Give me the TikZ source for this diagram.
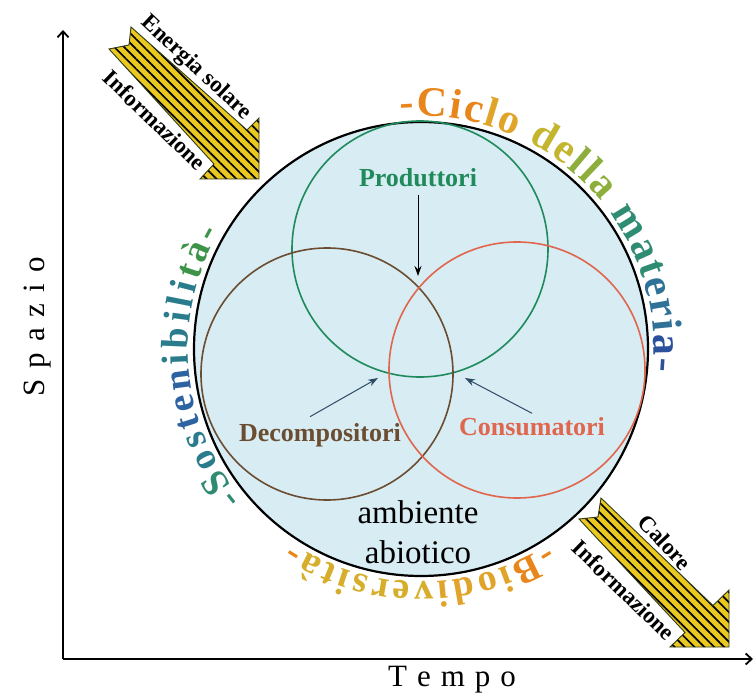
\documentclass[tikz,border=0pt]{standalone}
\usepackage{fontspec}
\setmainfont{Liberation Serif}
\usetikzlibrary{arrows.meta}
\usetikzlibrary{decorations.text}
\usetikzlibrary{patterns.meta}
\definecolor{skyfill}{HTML}{D7ECF3}
\definecolor{prodgreen}{HTML}{1F8A5B}
\definecolor{decbrown}{HTML}{6B4D31}
\definecolor{consred}{HTML}{E0664E}
\definecolor{pointblue}{HTML}{2D4B63}
\definecolor{hatchyellow}{HTML}{E9C81F}
\definecolor{arrowedge}{HTML}{2F3A1A}
\definecolor{cOr}{HTML}{E8861C}
\definecolor{cAm}{HTML}{E0A42A}
\definecolor{cYe}{HTML}{C4B52E}
\definecolor{cYg}{HTML}{8DAE3A}
\definecolor{cTe}{HTML}{2E8C73}
\definecolor{cBt}{HTML}{2F7197}
\definecolor{cBl}{HTML}{2B509C}
\definecolor{sTg}{HTML}{2E8A70}
\definecolor{sTe}{HTML}{2A7C8C}
\definecolor{sBl}{HTML}{2D63A0}
\definecolor{sGr}{HTML}{3D9448}
\definecolor{bYe}{HTML}{D6AE2C}
\newcommand{\ringtext}[3]{\path[decorate,decoration={text along path,text align=fit to path,text={#3}}] (ring.center) ++(#1:233) arc[start angle=#1,end angle=#2,radius=233];}

\begin{document}
\begin{tikzpicture}[x=1pt,y=-1pt,
    venn/.style={circle,line width=1.6pt,minimum size=#1,inner sep=0pt},
    kind/.style={font=\bfseries\fontsize{26}{26}\selectfont},
    pointer/.style={line width=1pt,-{Stealth[length=10pt,width=7pt]}},
    axis/.style={line width=1.8pt,-{Straight Barb[length=6pt,width=11pt]}},
    axislabel/.style={font=\fontsize{31}{31}\selectfont},
    flowlabel/.style={font=\bfseries\fontsize{23}{23}\selectfont,inner sep=0pt},
    hatched/.style={preaction={fill=hatchyellow},pattern={Lines[angle=-45,distance=7pt,line width=1.7pt]},pattern color=black,draw=arrowedge,line width=0.9pt}]
        \useasboundingbox (0,0) rectangle (755,695);
        %axes
        \coordinate (origin) at (63,659);
        \coordinate (ytop) at (63,30);
        \coordinate (xend) at (753,659);
        \draw[axis] (origin) -- (ytop);
        \draw[axis] (origin) -- (xend);
        \node[axislabel,rotate=90] (spazio) at (38,327) {S\hspace{11pt}p\hspace{11pt}a\hspace{11pt}z\hspace{11pt}i\hspace{11pt}o};
        \node[axislabel] (tempo) at (452,680) {T\hspace{10pt}e\hspace{10pt}m\hspace{10pt}p\hspace{10pt}o};
        %circles
        \node[circle,draw,fill=skyfill,line width=2.2pt,minimum size=454pt,inner sep=0pt] (ring) at (421,349) {};
        \node[venn=256pt,draw=prodgreen] (pcirc) at (420,249) {};
        \node[venn=252pt,draw=decbrown] (dcirc) at (327,374) {};
        \node[venn=256pt,draw=consred] (ccirc) at (517,370) {};
        %labels
        \node[kind,text=prodgreen] (prod) at (418,178) {Produttori};
        \node[kind,text=decbrown] (decomp) at (320,435) {Decompositori};
        \node[kind,text=consred] (consum) at (532,427) {Consumatori};
        \node[align=center,font=\fontsize{33}{40}\selectfont] (abiot) at (418,532) {ambiente\\abiotico};
        \coordinate (ptip) at (418,276);
        \coordinate (dtip) at (378,378);
        \coordinate (ctip) at (465,378);
        \draw[pointer,shorten <=4pt] (prod.south) -- (ptip);
        \draw[pointer,pointblue] ([xshift=-10pt,yshift=3pt]decomp.north) -- (dtip);
        \draw[pointer,pointblue] ([yshift=1pt]consum.north) -- (ctip);
        %ring texts
        \ringtext{-95}{5.5}{|\bfseries\fontsize{42}{42}\selectfont\color{cOr}|-Cic|+\color{cAm}|lo |+\color{cYe}|de|+\color{cYg}|lla |+\color{cTe}|mat|+\color{cBt}|eri|+\color{cBl}|a-}
        \ringtext{-220}{-150}{|\bfseries\fontsize{38}{38}\selectfont\color{sTg}|-S|+\color{sTe}|os|+\color{sBl}|ten|+\color{sTe}|ibili|+\color{sGr}|tà-}
        \ringtext{57}{123.5}{|\bfseries\fontsize{38}{38}\selectfont\color{cOr}|-B|+\color{cAm}|iodi|+\color{bYe}|versità|+\color{cOr}|-}
        %flow arrows
        \fill[white] (131,27) -- (129,45) -- (109,49) -- cycle;
        \draw[hatched] (131,27) -- (247,130) -- (259,118) -- (259,179) -- (200,179) -- (214,164) -- (109,49) -- (129,45) -- cycle;
        \fill[white] (601,498) -- (598,517) -- (579,519) -- cycle;
        \draw[hatched] (601,498) -- (713,605.5) -- (729,590) -- (729,647) -- (670,647) -- (685,632.5) -- (579,519) -- (598,517) -- cycle;
        \node[flowlabel,rotate=-43] (solar) at (196,68) {Energia solare};
        \node[flowlabel,rotate=-44] (infoin) at (155,120) {Informazione};
        \node[flowlabel,rotate=-47] (heat) at (665,542) {Calore};
        \node[flowlabel,rotate=-44] (infoout) at (624,590) {Informazione};
\end{tikzpicture}
\end{document}
